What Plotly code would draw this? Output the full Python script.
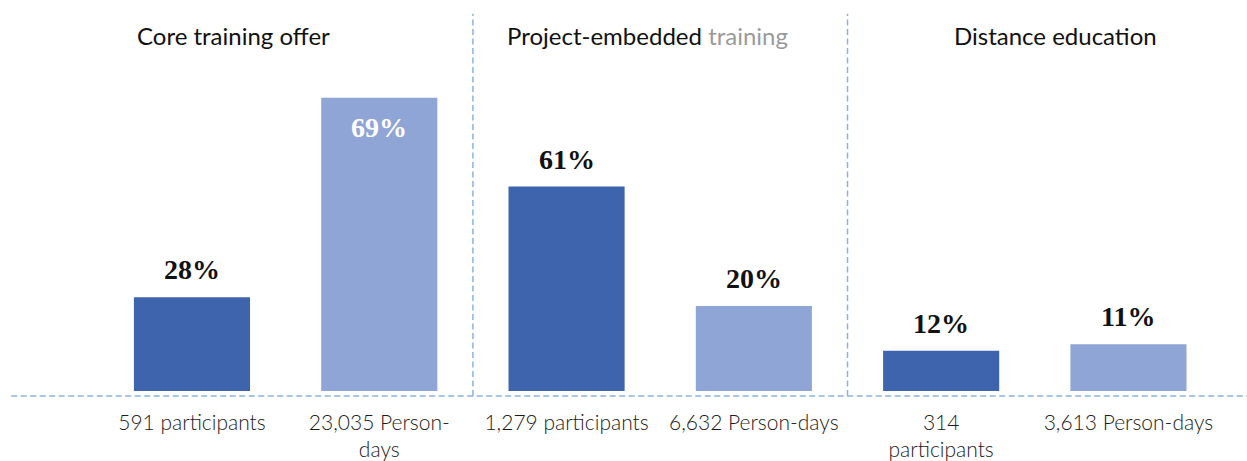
import plotly.graph_objects as go

# ---- data ----
categories = ["591 participants", "23,035 Person-<br>days", "1,279 participants",
              "6,632 Person-days", "314<br>participants", "3,613 Person-days"]
participant_pos = [0, 2, 4]
participant_vals = [28, 61, 12]
persondays_pos = [1, 3, 5]
persondays_vals = [69, 20, 11]
group_titles = ["Core training offer",
                "Project-embedded <span style='color:#9a9a9a'>training</span>",
                "Distance education"]
title_pos = [0.224, 2.43, 4.61]
separators = [1.5, 3.5]

DARK = "#3D64AD"
LIGHT = "#8FA5D5"
LINE = "#8AB4DF"
BAR_W = 0.62

fig = go.Figure()
fig.add_trace(go.Bar(x=participant_pos, y=participant_vals, width=BAR_W,
                     marker=dict(color=DARK, line=dict(width=0)), yaxis="y",
                     hoverinfo="skip"))
fig.add_trace(go.Bar(x=persondays_pos, y=persondays_vals, width=BAR_W,
                     marker=dict(color=LIGHT, line=dict(width=0)), yaxis="y2",
                     hoverinfo="skip"))

annos = []
lab_font = dict(family="Liberation Serif, Times New Roman, serif", size=28, color="#111")
for x, v in zip(participant_pos, participant_vals):
    annos.append(dict(x=x, y=v, xref="x", yref="y", text=f"<b>{v}%</b>", showarrow=False,
                      yanchor="bottom", yshift=10, font=lab_font))
for x, v in zip(persondays_pos, persondays_vals):
    if v > 50:
        annos.append(dict(x=x, y=v, xref="x", yref="y2", text=f"<b>{v}%</b>", showarrow=False,
                          yanchor="top", yshift=-12, font=dict(lab_font, color="white")))
    else:
        annos.append(dict(x=x, y=v, xref="x", yref="y2", text=f"<b>{v}%</b>", showarrow=False,
                          yanchor="bottom", yshift=10, font=lab_font))
for x, t in zip(title_pos, group_titles):
    annos.append(dict(x=x, y=0.908, xref="x", yref="paper", text=t, showarrow=False,
                      xanchor="center", yanchor="middle",
                      font=dict(family="Lato, Carlito, sans-serif", size=24, color="#111")))

DASH = "6px,3.5px"
shapes = [dict(type="line", xref="paper", yref="paper", x0=0.009, x1=1, y0=-0.013, y1=-0.013,
               line=dict(color=LINE, width=1.5, dash=DASH))]
for s in separators:
    shapes.append(dict(type="line", xref="x", yref="paper", x0=s, x1=s, y0=-0.013, y1=0.965,
                       line=dict(color=LINE, width=1.5, dash=DASH)))

fig.update_layout(
    width=1247, height=461,
    margin=dict(l=0, r=0, t=0, b=70),
    paper_bgcolor="white", plot_bgcolor="white",
    showlegend=False, barmode="overlay",
    xaxis=dict(range=[-1.025, 5.633], tickmode="array", tickvals=list(range(6)),
               ticktext=categories, showgrid=False, zeroline=False, showline=False,
               ticks="", ticklabelstandoff=17,
               tickfont=dict(family="Lato, Carlito, sans-serif", size=21, color="#1a1a1a",
                             weight=300)),
    yaxis=dict(range=[0, 116.7], visible=False),
    yaxis2=dict(range=[0, 92.0], visible=False, overlaying="y"),
    annotations=annos, shapes=shapes,
)
fig.write_html("out.html", config={"displayModeBar": False},
               post_script="document.body.style.margin='0px';")
